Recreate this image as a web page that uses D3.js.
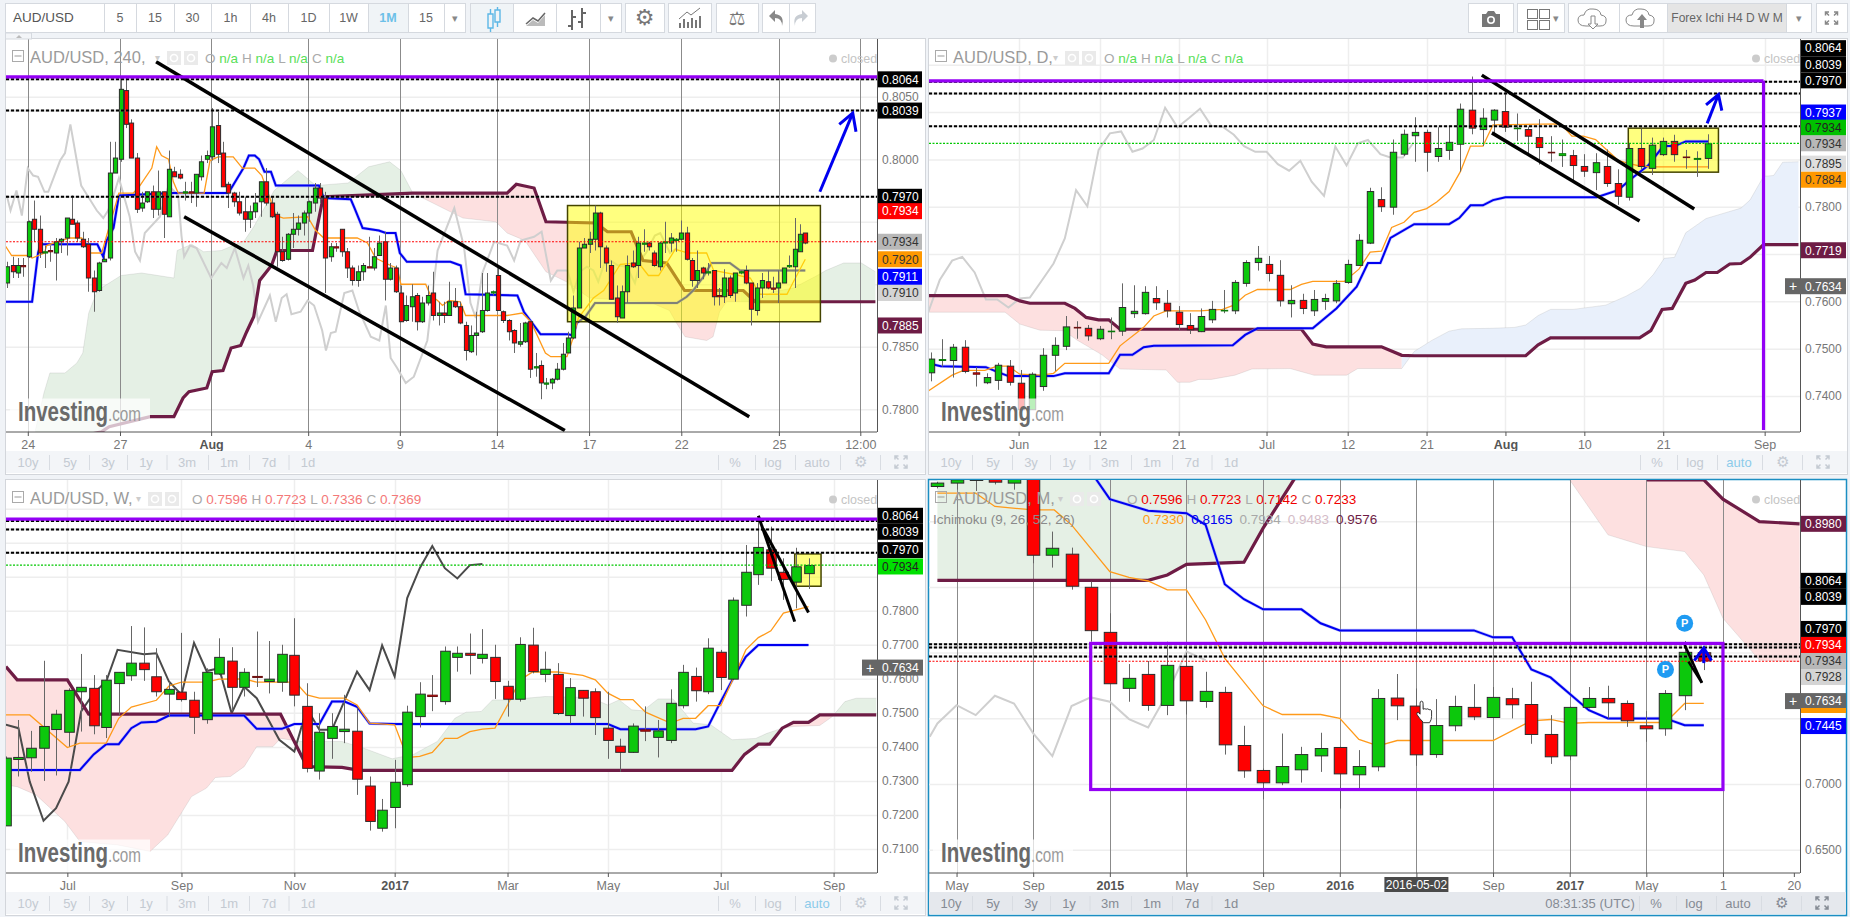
<!DOCTYPE html>
<html><head><meta charset="utf-8">
<script src="https://cdn.jsdelivr.net/npm/d3@7"></script>
<style>
html,body{margin:0;padding:0;background:#f0f3f7;overflow:hidden}
svg{display:block}
text{font-family:"Liberation Sans",Arial,sans-serif}
</style></head><body><svg id="c" width="1850" height="917"></svg>
<script>
// ---------- candles: [open, close, high, low] ----------
const h4Candles=[
[.7901,.7914,.7918,.7897],[.7915,.7910,.7922,.7905],[.7909,.7915,.7921,.7905],[.7915,.7914,.7921,.7906],[.7922,.7950,.7951,.7921],[.7952,.7944,.7967,.7934],[.7944,.7925,.7955,.7921],[.7925,.7926,.7931,.7913],[.7927,.7926,.7931,.7918],[.7925,.7934,.7937,.7903],
[.7934,.7936,.7937,.7925],[.7937,.7953,.7953,.7923],[.7952,.7948,.7971,.7948],[.7949,.7937,.7951,.7934],[.7936,.7930,.7942,.7929],[.7932,.7905,.7937,.7894],[.7905,.7894,.7911,.7878],[.7895,.7917,.7918,.7894],[.7918,.7920,.7923,.7918],[.7921,.7989,.8014,.7919],
[.7989,.8001,.8014,.7989],[.8000,.8056,.8064,.7998],[.8055,.8028,.8066,.8025],[.8029,.8001,.8032,.8001],[.8001,.7960,.8005,.7957],[.7961,.7965,.7974,.7958],[.7966,.7974,.7974,.7965],[.7974,.7960,.7979,.7953],[.7960,.7974,.7991,.7955],[.7974,.7956,.7974,.7937],
[.7954,.7992,.8007,.7954],[.7990,.7986,.7994,.7986],[.7988,.7985,.7992,.7984],[.7973,.7974,.7982,.7967],[.7974,.7973,.7982,.7965],[.7973,.7988,.7988,.7962],[.7986,.7998,.8003,.7983],[.8000,.8003,.8007,.7997],[.8002,.8026,.8041,.7999],[.8027,.8004,.8038,.7997],
[.8005,.7978,.8014,.7978],[.7980,.7973,.7982,.7961],[.7973,.7966,.7974,.7962],[.7966,.7957,.7974,.7955],[.7958,.7952,.7970,.7942],[.7952,.7958,.7963,.7945],[.7958,.7965,.7973,.7953],[.7966,.7982,.7982,.7954],[.7982,.7965,.7993,.7963],[.7965,.7954,.7970,.7953],
[.7956,.7926,.7958,.7914],[.7926,.7919,.7938,.7918],[.7920,.7940,.7941,.7919],[.7940,.7944,.7957,.7929],[.7944,.7949,.7955,.7939],[.7949,.7957,.7959,.7939],[.7957,.7966,.7967,.7950],[.7965,.7977,.7981,.7958],[.7977,.7969,.7981,.7965],[.7969,.7921,.7974,.7893],
[.7922,.7930,.7933,.7918],[.7930,.7929,.7933,.7926],[.7944,.7926,.7944,.7922],[.7926,.7913,.7929,.7905],[.7913,.7903,.7915,.7899],[.7903,.7910,.7915,.7898],[.7910,.7915,.7917,.7903],[.7914,.7913,.7938,.7913],[.7913,.7922,.7929,.7911],[.7923,.7933,.7939,.7923],
[.7934,.7904,.7942,.7887],[.7904,.7913,.7917,.7903],[.7913,.7894,.7915,.7893],[.7893,.7870,.7899,.7870],[.7871,.7883,.7891,.7870],[.7882,.7890,.7900,.7870],[.7891,.7870,.7893,.7863],[.7870,.7885,.7890,.7869],[.7885,.7891,.7899,.7883],[.7893,.7875,.7910,.7871],
[.7875,.7877,.7886,.7867],[.7877,.7875,.7886,.7869],[.7875,.7886,.7902,.7875],[.7886,.7882,.7897,.7881],[.7882,.7869,.7886,.7868],[.7867,.7847,.7870,.7839],[.7846,.7859,.7867,.7845],[.7859,.7861,.7878,.7843],[.7862,.7879,.7909,.7861],[.7879,.7893,.7909,.7878],
[.7893,.7894,.7895,.7891],[.7907,.7879,.7915,.7879],[.7878,.7871,.7879,.7869],[.7871,.7862,.7872,.7855],[.7863,.7853,.7864,.7845],[.7852,.7854,.7869,.7850],[.7854,.7869,.7870,.7853],[.7870,.7832,.7870,.7825],[.7833,.7834,.7845,.7826],[.7835,.7821,.7839,.7808],
[.7820,.7821,.7825,.7816],[.7821,.7824,.7825,.7816],[.7824,.7832,.7837,.7823],[.7832,.7844,.7853,.7831],[.7845,.7857,.7862,.7845],[.7857,.7881,.7891,.7856],[.7881,.7929,.7934,.7881],[.7929,.7932,.7937,.7929],[.7932,.7936,.7942,.7925],[.7936,.7957,.7963,.7927],
[.7957,.7930,.7958,.7913],[.7929,.7917,.7931,.7910],[.7915,.7888,.7919,.7888],[.7889,.7874,.7899,.7869],[.7873,.7894,.7899,.7873],[.7894,.7915,.7923,.7885],[.7917,.7914,.7927,.7913],[.7915,.7933,.7938,.7905],[.7932,.7933,.7944,.7926],[.7933,.7930,.7934,.7927],
[.7925,.7915,.7927,.7914],[.7914,.7933,.7934,.7911],[.7933,.7934,.7950,.7925],[.7933,.7937,.7941,.7926],[.7935,.7936,.7937,.7926],[.7936,.7941,.7951,.7935],[.7941,.7920,.7946,.7919],[.7919,.7903,.7921,.7898],[.7903,.7911,.7927,.7897],[.7913,.7909,.7914,.7904],
[.7909,.7910,.7917,.7907],[.7911,.7890,.7911,.7883],[.7891,.7890,.7897,.7883],[.7890,.7905,.7912,.7885],[.7905,.7891,.7907,.7889],[.7893,.7909,.7909,.7886],[.7909,.7910,.7911,.7908],[.7911,.7901,.7915,.7900],[.7901,.7880,.7901,.7867],[.7879,.7897,.7901,.7875],
[.7897,.7903,.7909,.7889],[.7902,.7897,.7911,.7896],[.7897,.7896,.7906,.7893],[.7897,.7901,.7911,.7885],[.7901,.7913,.7913,.7901],[.7914,.7915,.7923,.7913],[.7914,.7928,.7953,.7897],[.7926,.7940,.7948,.7926],[.7941,.7933,.7941,.7932]];
const dayCandles=[
[.7449,.7478,.7492,.7431],[.7475,.7477,.7520,.7462],[.7475,.7503,.7510,.7439],[.7503,.7452,.7518,.7448],[.7449,.7446,.7461,.7420],[.7428,.7439,.7448,.7425],[.7433,.7465,.7470,.7413],[.7463,.7429,.7476,.7422],[.7427,.7371,.7455,.7367],[.7371,.7446,.7450,.7371],
[.7420,.7486,.7501,.7411],[.7486,.7507,.7524,.7453],[.7505,.7546,.7569,.7497],[.7545,.7544,.7558,.7521],[.7543,.7527,.7550,.7517],[.7521,.7541,.7548,.7518],[.7536,.7537,.7566,.7520],[.7537,.7587,.7638,.7527],[.7574,.7579,.7634,.7565],[.7574,.7619,.7632,.7572],
[.7606,.7597,.7632,.7582],[.7596,.7580,.7624,.7566],[.7577,.7551,.7590,.7539],[.7549,.7540,.7575,.7531],[.7536,.7568,.7585,.7535],[.7561,.7583,.7601,.7554],[.7580,.7581,.7624,.7575],[.7580,.7640,.7645,.7573],[.7638,.7682,.7687,.7631],[.7682,.7691,.7717,.7665],
[.7678,.7659,.7696,.7642],[.7655,.7601,.7687,.7589],[.7595,.7602,.7634,.7566],[.7602,.7585,.7616,.7573],[.7580,.7604,.7624,.7569],[.7600,.7606,.7616,.7582],[.7601,.7638,.7645,.7596],[.7640,.7678,.7688,.7637],[.7676,.7729,.7742,.7675],[.7723,.7832,.7840,.7721],
[.7815,.7800,.7841,.7789],[.7799,.7915,.7942,.7783],[.7911,.7953,.7963,.7907],[.7950,.7957,.7989,.7895],[.7957,.7915,.7963,.7874],[.7906,.7923,.7968,.7895],[.7919,.7936,.7970,.7899],[.7932,.8006,.8018,.7874],[.8004,.7966,.8075,.7953],[.7963,.7987,.8008,.7928],
[.7983,.8004,.8006,.7955],[.8001,.7968,.8044,.7958],[.7965,.7966,.7997,.7939],[.7963,.7949,.7969,.7913],[.7946,.7925,.7985,.7889],[.7915,.7914,.7949,.7895],[.7908,.7912,.7942,.7884],[.7908,.7887,.7920,.7854],[.7885,.7875,.7911,.7863],[.7872,.7893,.7913,.7835],
[.7885,.7849,.7921,.7842],[.7849,.7822,.7879,.7804],[.7820,.7923,.7934,.7813],[.7923,.7885,.7965,.7879],[.7881,.7930,.7946,.7867],[.7910,.7938,.7946,.7907],[.7938,.7910,.7952,.7895],[.7905,.7904,.7920,.7880],[.7900,.7902,.7917,.7863],[.7902,.7933,.7953,.7880]];
const weekCandles=[
[.7168,.7367,.7372,.7168],[.7363,.7369,.7479,.7313],[.7368,.7396,.7447,.7327],[.7396,.7460,.7653,.7300],[.7451,.7496,.7509,.7316],[.7443,.7566,.7572,.7401],[.7562,.7575,.7673,.7445],[.7572,.7462,.7611,.7437],[.7457,.7596,.7611,.7426],[.7586,.7619,.7619,.7494],
[.7609,.7646,.7755,.7594],[.7646,.7627,.7751,.7594],[.7606,.7562,.7690,.7548],[.7555,.7569,.7592,.7489],[.7561,.7539,.7735,.7533],[.7537,.7487,.7562,.7438],[.7480,.7619,.7631,.7468],[.7614,.7663,.7719,.7611],[.7652,.7575,.7693,.7505],[.7575,.7619,.7631,.7548],
[.7607,.7604,.7739,.7576],[.7592,.7599,.7711,.7557],[.7590,.7672,.7700,.7562],[.7669,.7552,.7778,.7519],[.7519,.7337,.7587,.7325],[.7329,.7443,.7499,.7304],[.7425,.7460,.7499,.7365],[.7445,.7452,.7553,.7411],[.7446,.7305,.7513,.7259],[.7285,.7181,.7313,.7154],
[.7161,.7214,.7247,.7151],[.7222,.7296,.7362,.7161],[.7289,.7502,.7521,.7283],[.7489,.7555,.7590,.7457],[.7552,.7548,.7611,.7505],[.7533,.7681,.7695,.7524],[.7663,.7675,.7695,.7621],[.7675,.7669,.7733,.7613],[.7660,.7672,.7746,.7645],[.7663,.7592,.7700,.7541],
[.7578,.7540,.7594,.7489],[.7540,.7701,.7722,.7533],[.7699,.7621,.7750,.7616],[.7613,.7628,.7680,.7590],[.7613,.7498,.7646,.7494],[.7492,.7574,.7602,.7469],[.7566,.7543,.7567,.7489],[.7562,.7486,.7572,.7435],[.7455,.7419,.7562,.7365],[.7402,.7384,.7424,.7327],
[.7384,.7461,.7469,.7382],[.7450,.7446,.7519,.7417],[.7428,.7447,.7479,.7369],[.7419,.7528,.7569,.7411],[.7521,.7619,.7641,.7513],[.7607,.7565,.7633,.7533],[.7562,.7690,.7719,.7555],[.7678,.7604,.7685,.7567],[.7599,.7831,.7839,.7597],[.7816,.7913,.7993,.7783],
[.7906,.7986,.8076,.7876],[.7979,.7925,.8047,.7887],[.7913,.7892,.7954,.7832],[.7884,.7929,.7985,.7807],[.7909,.7933,.7954,.7864]];
const monthCandles=[
[.9264,.9290,.9300,.9250],[.9290,.9315,.9400,.9240],[.9310,.9330,.9400,.9230],[.9330,.9297,.9400,.9280],[.9290,.9340,.9400,.9240],[.9400,.8741,.9500,.8680],[.8741,.8794,.8921,.8647],[.8749,.8505,.8799,.8479],[.8497,.8167,.8540,.8083],[.8154,.7763,.8299,.7766],
[.7728,.7804,.7913,.7626],[.7834,.7598,.7936,.7557],[.7598,.7903,.8083,.7524],[.7895,.7633,.8000,.7529],[.7628,.7705,.7854,.7580],[.7697,.7298,.7740,.7224],[.7293,.7100,.7443,.7047],[.7103,.7009,.7118,.6884],[.7009,.7133,.7384,.6991],[.7108,.7224,.7283,.7011],
[.7214,.7270,.7390,.7092],[.7278,.7077,.7283,.6813],[.7070,.7133,.7258,.6966],[.7131,.7651,.7722,.7097],[.7654,.7595,.7837,.7486],[.7593,.7222,.7727,.7138],[.7224,.7445,.7646,.7199],[.7443,.7590,.7672,.7402],[.7583,.7511,.7760,.7486],[.7506,.7659,.7738,.7506],
[.7649,.7603,.7732,.7499],[.7605,.7377,.7778,.7306],[.7377,.7207,.7524,.7153],[.7214,.7583,.7588,.7181],[.7583,.7651,.7738,.7575],[.7651,.7618,.7748,.7499],[.7613,.7481,.7636,.7435],[.7443,.7420,.7555,.7321],[.7420,.7689,.7715,.7367],[.7672,.8002,.8088,.7562],[.7999,.7936,.8045,.7867]];

// ---------- ichimoku lines: [bar index, price] ----------
const h4Kijun=[[-.4,.7886],[4.6,.7886],[5.7,.7925],[6.2,.7932],[16.7,.7932],[17.8,.7922],[18.4,.7935],[19.7,.7945],[20.7,.7971],[30.8,.7973],[41,.7973],[43.8,.7993],[44.8,.8003],[45.9,.8003],[46.7,.8000],[47.7,.7990],[48.9,.7990],[49.8,.7979],[57.8,.7979],[58.7,.7969],[63.7,.7968],[64.4,.7961],[65.9,.7945],[68.9,.7943],[70.2,.7941],[72,.7941],[72.8,.7925],[74.1,.7918],[82.2,.7918],[84.1,.7915],[85,.7892],[94.6,.7891],[95.8,.7878],[98.9,.7860],[104,.7860],[105,.7859],[105.6,.7869],[107.2,.7874],[109,.7885],[124.2,.7885],[126,.7890],[127.2,.7895],[129.1,.7906],[130.6,.7917],[134,.7917],[135.9,.7911],[145.8,.7911],[148,.7911]];
const h4Tenkan=[[-.4,.7931],[.8,.7923],[3.9,.7923],[4.6,.7921],[6.9,.7925],[7.3,.7931],[9.8,.7935],[11.6,.7937],[13.8,.7937],[15.5,.7925],[17.5,.7925],[20.7,.7973],[23.4,.7973],[24.6,.7979],[26.8,.7993],[27.7,.8010],[28.6,.8003],[29.9,.8000],[30.8,.7982],[31.7,.7973],[36.5,.7973],[37.6,.7999],[39.1,.8002],[41.9,.8002],[43.6,.7993],[45.9,.7993],[47.2,.7987],[48.7,.7969],[49.8,.7955],[51.2,.7953],[55.7,.7954],[57.2,.7943],[58.7,.7937],[64.9,.7937],[66.8,.7933],[68.3,.7921],[71.1,.7915],[72.3,.7913],[73,.7900],[77.6,.7900],[78.5,.7891],[79.8,.7887],[80.7,.7883],[81.9,.7887],[84,.7886],[85,.7875],[92.7,.7875],[95.5,.7877],[97.1,.7870],[99.8,.7845],[100.8,.7842],[103.8,.7842],[105,.7858],[105.9,.7873],[108.7,.7889],[110.6,.7895],[113.7,.7916],[117.1,.7917],[118.9,.7907],[120.8,.7907],[123.9,.7928],[126.3,.7925],[129.7,.7925],[131,.7911],[134.7,.7908],[137.8,.7905],[139.6,.7892],[144.6,.7892],[145.8,.7902],[148,.7920]];
const h4SpanB=[[5.2,.7770],[17.5,.7782],[18.9,.7786],[26.5,.7794],[30.9,.7794],[32.6,.7809],[33.7,.7814],[37,.7817],[38,.7830],[40,.7831],[41.5,.7849],[43.3,.7851],[44.4,.7862],[45.7,.7874],[46.8,.7903],[49,.7915],[50,.7927],[56.6,.7927],[58.6,.7970],[75.2,.7973],[92.7,.7973],[94.4,.7980],[97.7,.7977],[99.9,.7950],[109.2,.7949],[111.3,.7942],[115.7,.7942],[117.9,.7919],[122.3,.7917],[125.6,.7895],[136.5,.7895],[138.7,.7886],[161,.7886]];
const h4SpanA=[[5.2,.7783],[6.8,.7813],[7.9,.7829],[10.7,.7829],[12.9,.7837],[14,.7845],[15.1,.7877],[16.7,.7895],[21.1,.7907],[24.9,.7909],[30.9,.7905],[31.5,.7927],[34.2,.7932],[36.4,.7926],[39.7,.7927],[41.9,.7931],[44,.7935],[45.7,.7946],[49.5,.7975],[53.9,.7991],[57.2,.7979],[63.2,.7981],[67,.7994],[70.9,.7998],[73,.7991],[75.2,.7973],[84.5,.7953],[90.6,.7950],[92.7,.7941],[96,.7935],[99.9,.7910],[103.7,.7902],[108,.7889],[119,.7886],[122.8,.7879],[124.1,.7869],[125.7,.7858],[129.7,.7855],[130.9,.7858],[132.1,.7878],[133.4,.7886],[138.7,.7886],[142,.7894],[145.8,.7897],[150.2,.7907],[151.8,.7911],[155.1,.7917],[158.4,.7917],[161,.7910]];
const h4Chikou=[[-.1,.7971],[.6,.7959],[1.7,.7975],[2.7,.7955],[3.8,.7993],[4.8,.7987],[5.7,.7986],[6.9,.7974],[7.6,.7974],[9.8,.7999],[10.7,.8005],[11.7,.8028],[13.7,.7979],[15,.7970],[16.6,.7959],[17.8,.7953],[18.7,.7959],[19.7,.7971],[20.7,.7985],[22.7,.7954],[23.7,.7926],[24.6,.7919],[25.5,.7941],[28.3,.7954],[29.9,.7979],[31.7,.7971],[32.3,.7939],[32.8,.7922],[33.9,.7931],[35.1,.7929],[37.8,.7905],[39.7,.7917],[40.7,.7913],[42.2,.7929],[43.8,.7905],[44.7,.7915],[45.6,.7899],[46.5,.7870],[48.7,.7891],[49.8,.7870],[50.9,.7889],[51.8,.7892],[52.7,.7876],[54.4,.7878],[55.7,.7887],[56.9,.7883],[58.4,.7863],[59.1,.7847],[60,.7861],[60.9,.7862],[62.5,.7893],[64,.7895],[65.2,.7879],[67.4,.7858],[69,.7855],[70.2,.7883],[71.1,.7841],[72.3,.7833],[73.9,.7821],[75.4,.7826],[77.9,.7855],[79.8,.7927],[82.9,.7961],[84.7,.7930],[85.9,.7885],[86.9,.7873],[88.1,.7909],[90.3,.7934],[92.7,.7931],[94,.7919],[95.2,.7935],[97.7,.7938],[99.1,.7942],[100.8,.7903],[102,.7911],[103.9,.7911],[105,.7894],[106.2,.7910],[107.5,.7914],[108.7,.7911],[109.6,.7902],[110.6,.7915],[111.8,.7919],[113.3,.7915],[114.9,.7914],[116.4,.7901],[117.4,.7919],[118.6,.7926],[120.1,.7939],[121.1,.7941],[122.9,.7925],[124.2,.7929]];

const dayKijun=[[-.2,.7469],[.9,.7463],[4.9,.7461],[5.9,.7451],[6.9,.7442],[10.9,.7442],[11.9,.7448],[15.8,.7448],[16.8,.7487],[17.9,.7487],[18.9,.7503],[19.8,.7506],[26.8,.7507],[27.9,.7529],[29,.7543],[33.9,.7543],[36,.7585],[37.8,.7631],[38.8,.7681],[39.9,.7681],[40.8,.7734],[42.9,.7763],[46,.7763],[46.9,.7776],[47.9,.7803],[49,.7803],[49.9,.7814],[51,.7820],[59.1,.7820],[61,.7835],[62,.7856],[63.7,.7888],[65,.7928],[66,.7928],[67,.7938],[69,.7938]];
const dayTenkan=[[-.2,.7411],[1.9,.7444],[2.9,.7454],[4.8,.7454],[5.9,.7463],[6.9,.7463],[7.9,.7446],[9.8,.7444],[10.9,.7448],[11.9,.7469],[15.8,.7469],[16.8,.7506],[18.9,.7545],[19.8,.7569],[20.9,.7580],[23.9,.7580],[25.9,.7583],[26.9,.7592],[27.9,.7613],[29,.7625],[31.9,.7625],[32.9,.7636],[33.9,.7642],[36.7,.7642],[38,.7668],[39,.7704],[40,.7706],[40.9,.7756],[42,.7767],[42.9,.7788],[44,.7796],[44.9,.7810],[46,.7832],[47,.7874],[47.9,.7928],[49,.7928],[49.9,.7973],[55.9,.7975],[56.9,.7949],[57.9,.7949],[59,.7942],[60,.7920],[61,.7898],[62,.7891],[62.9,.7886],[64,.7884],[69,.7884]];
const daySpanB=[[-.2,.7612],[6.8,.7612],[7.9,.7601],[8.8,.7596],[11.9,.7596],[12.8,.7585],[13.8,.7566],[14.9,.7561],[15.8,.7561],[16.8,.7541],[32.9,.7541],[33.9,.7510],[35.1,.7504],[40,.7504],[41.8,.7486],[42.9,.7485],[52.8,.7485],[53.9,.7508],[55,.7523],[62.9,.7523],[63.9,.7538],[64.9,.7583],[65.8,.7585],[67,.7638],[67.8,.7645],[68.8,.7661],[69.8,.7661],[70.9,.7679],[71.9,.7680],[72.7,.7693],[73.9,.7720],[77,.7720]];
const daySpanA=[[-.2,.7577],[6.6,.7577],[7.9,.7552],[9.7,.7539],[11.8,.7538],[13,.7518],[15.2,.7487],[16.8,.7457],[20.9,.7455],[21.9,.7429],[23,.7429],[23.8,.7435],[24.9,.7435],[27,.7444],[28.5,.7457],[31.9,.7458],[34,.7444],[36.9,.7444],[37.9,.7458],[41.8,.7458],[42.9,.7494],[44.5,.7518],[46,.7537],[47.1,.7542],[49.7,.7543],[51.8,.7545],[52.8,.7550],[53.9,.7570],[55,.7583],[57,.7583],[59.9,.7592],[61.7,.7611],[63,.7628],[64.1,.7656],[65.1,.7691],[66,.7693],[67,.7745],[68.8,.7775],[71.9,.7797],[72.7,.7814],[73.9,.7864],[74.8,.7866],[75.6,.7894],[77,.7895]];
const dayChikou=[[-.2,.7578],[.8,.7645],[1.9,.7686],[2.8,.7694],[3.9,.7661],[4.9,.7604],[5.9,.7604],[6.9,.7587],[7.9,.7606],[8.8,.7608],[9.8,.7642],[10.9,.7680],[11.9,.7733],[12.9,.7835],[13.9,.7801],[14.9,.7920],[15.9,.7955],[16.9,.7959],[17.9,.7916],[18.8,.7923],[19.8,.7941],[20.8,.8009],[21.9,.7968],[22.9,.7987],[23.9,.8007],[24.9,.7971],[25.9,.7969],[26.9,.7952],[27.8,.7928],[28.8,.7916],[29.8,.7916],[30.8,.7890],[31.8,.7876],[32.8,.7897],[33.8,.7853],[34.9,.7823],[35.9,.7927],[36.9,.7887],[37.9,.7934],[38.8,.7941],[39.9,.7911],[40.8,.7904],[41.9,.7904],[42.8,.7934]];

const weekTenkan=[[0,.7494],[1.9,.7494],[4.9,.7398],[5.9,.7411],[8,.7411],[9,.7484],[10,.7517],[12,.7537],[13,.7579],[14,.7590],[16,.7590],[17,.7599],[19,.7600],[20,.7590],[23.1,.7590],[24,.7553],[25,.7543],[27,.7543],[28,.7523],[29,.7470],[31,.7465],[32,.7369],[33,.7372],[34,.7384],[35,.7425],[36,.7425],[37,.7445],[38,.7452],[39,.7455],[40,.7523],[41,.7597],[42,.7620],[44,.7620],[46,.7610],[47,.7597],[48,.7558],[49,.7539],[50,.7539],[51,.7502],[53,.7470],[54,.7484],[55,.7484],[56,.7521],[57,.7521],[58,.7600],[59,.7685],[60,.7721],[61,.7741],[62,.7793],[64,.7812]];
const weekKijun=[[0,.7332],[5.9,.7332],[7,.7378],[8,.7408],[9,.7408],[10,.7455],[10.8,.7472],[12,.7474],[13,.7492],[19,.7492],[20,.7453],[22,.7453],[23,.7467],[25,.7467],[26,.7533],[27,.7533],[28,.7518],[29,.7469],[31,.7467],[48,.7467],[49,.7452],[55,.7452],[56,.7460],[57,.7533],[58,.7602],[59,.7665],[60,.7699],[64,.7699]];
const weekSpanB=[[0,.7636],[.9,.7597],[4.9,.7597],[6.6,.7496],[21.9,.7496],[24,.7342],[26.8,.7340],[28.2,.7331],[57.9,.7331],[58.9,.7378],[60,.7408],[60.9,.7408],[61.9,.7455],[62.8,.7472],[64,.7472],[64.9,.7494],[69.4,.7494]];
const weekSpanA=[[0,.7288],[.9,.7283],[2.4,.7259],[4.7,.7181],[5.9,.7122],[7.3,.7117],[8.9,.7112],[11.5,.7093],[12.9,.7141],[14.8,.7254],[16,.7279],[16.7,.7310],[17.9,.7313],[19,.7342],[20,.7401],[21.3,.7401],[21.9,.7425],[23.5,.7416],[24.9,.7416],[26.8,.7416],[28.7,.7394],[30.8,.7365],[32.5,.7378],[34.4,.7416],[35.8,.7484],[36.7,.7502],[37.9,.7504],[38.8,.7538],[40,.7538],[43,.7548],[46.6,.7545],[48,.7523],[48.9,.7538],[49.9,.7509],[50.8,.7506],[52,.7541],[53.2,.7541],[54.8,.7470],[56.2,.7465],[57.9,.7421],[59.8,.7425],[60.7,.7440],[61.9,.7455],[62.8,.7460],[64.9,.7463],[65.9,.7489],[66.9,.7533],[67.8,.7543],[69.4,.7543]];
const weekChikou=[[0,.7465],[1,.7455],[1.9,.7298],[3,.7183],[4,.7220],[5,.7298],[6,.7504],[7,.7558],[8,.7592],[8.9,.7685],[11,.7672],[12,.7675],[13,.7592],[14,.7553],[15,.7706],[16,.7623],[17,.7631],[18,.7499],[19,.7577],[20,.7543],[21.8,.7421],[23,.7386],[24,.7513],[25,.7450],[26,.7450],[28,.7621],[29,.7567],[30,.7698],[31,.7607],[32,.7837],[33,.7925],[34,.7990],[35,.7925],[36,.7895],[37,.7934],[38,.7937]];

const monthTenkan=[[0,.9213],[2,.9213],[3,.9112],[5,.9086],[6.1,.9086],[7,.8972],[9,.8616],[10,.8573],[11,.8545],[12,.8477],[13,.8477],[14,.8248],[15,.7956],[17,.7595],[18,.7529],[20,.7529],[21,.7499],[22,.7339],[23,.7290],[24,.7331],[29,.7331],[31,.7481],[32,.7491],[33,.7461],[34,.7468],[38,.7468],[39,.7613],[40,.7613]];
const monthKijun=[[7.9,.9400],[9,.9168],[11,.9079],[13,.9061],[14,.8972],[15,.8520],[16,.8406],[17,.8329],[19,.8329],[20,.8223],[21,.8169],[28,.8169],[29,.8116],[30,.8116],[31,.7872],[32,.7811],[34,.7562],[35,.7499],[38,.7499],[39,.7448],[40,.7448]];
const monthSpanB=[[0,.8550],[11,.8550],[12,.8591],[13,.8672],[16,.8688],[17,.8947],[18.6,.9315],[22,1.0],[36,1.0],[37.1,.9315],[40,.9315],[41,.9168],[42.9,.8997],[45,.8980]];
const monthSpanA=[[0,1.0],[22,1.0],[33,.9315],[35,.8896],[37,.8807],[39,.8769],[40,.8591],[41,.8261],[42.9,.7943],[45,.7931]];
const monthChikou=[[-.4,.7359],[0,.7461],[1,.7600],[2,.7524],[3,.7672],[4,.7613],[5,.7385],[6,.7212],[7,.7593],[8,.7659],[9,.7626],[10,.7494],[11,.7430],[12,.7689],[13,.8007],[14,.7943]];

// ---------- axes ----------
const h4TickPos=[3.8,20.9,37.8,55.8,72.8,90.8,107.9,125,143.1,158.2];
const h4TickLabels=["24","27","Aug","4","9","14","17","22","25","12:00"];
const dayTickPos=[7.8,15,22,29.8,37,44,51,58,65,74];
const dayTickLabels=["Jun","12","21","Jul","12","21","Aug","10","21","Sep"];
const weekTickPos=[4.9,14,23,31,40,48,57,66];
const weekTickLabels=["Jul","Sep","Nov","2017","Mar","May","Jul","Sep"];
const monthTickPos=[1,5,9,13,17,21,25,29,33,37,41,44.7];
const monthTickLabels=["May","Sep","2015","May","Sep","2016","2016-05-02","Sep","2017","May","1","20"];
const h4PriceTicks=[.805,.80,.795,.79,.785,.78];
const dayPriceTicks=[.81,.80,.79,.78,.77,.76,.75,.74];
const weekPriceTicks=[.81,.80,.79,.78,.77,.76,.75,.74,.73,.72,.71];
const monthPriceTicks=[.9,.85,.8,.75,.7,.65];

// ---------- level lines ----------
const keyLevels=[.8064,.8039,.7970];
const lastPrice=.7934;
const rangeButtons=["10y","5y","3y","1y","3m","1m","7d","1d"];
const intervalButtons=["5","15","30","1h","4h","1D","1W","1M","15"];

// ---------- price tags: [text, shown at price, background, text colour] ----------
const h4Tags=[["0.8064",.8064,"#000","#fff"],["0.8039",.8039,"#000","#fff"],["0.7970",.7970,"#000","#fff"],["0.7934",.79585,"#f00","#fff"],["0.7934",.7934,"#b8b8b8","#333"],["0.7920",.7920,"#ff9800","#333"],["0.7911",.7906,"#00f","#fff"],["0.7910",.7893,"#d4d4d4","#333"],["0.7885",.7867,"#6e1c45","#fff"]];
const dayTags=[["0.8064",.8135,"#000","#fff"],["0.8039",.8101,"#000","#fff"],["0.7970",.8067,"#000","#fff"],["0.7937",.7999,"#00f","#fff"],["0.7934",.7967,"#00c000","#222"],["0.7934",.7934,"#b8b8b8","#333"],["0.7895",.7891,"#dedede","#333"],["0.7884",.7857,"#ff9800","#333"],["0.7719",.7708,"#6e1c45","#fff"],["0.7634",.7632,"#666","#fff"]];
const weekTags=[["0.8064",.8079,"#000","#fff"],["0.8039",.8032,"#000","#fff"],["0.7970",.7978,"#000","#fff"],["0.7934",.7930,"#00e000","#222"],["0.7634",.7633,"#666","#fff"]];
const monthTags=[["0.8980",.8980,"#6e1c45","#fff"],["0.8064",.8546,"#000","#fff"],["0.8039",.8424,"#000","#fff"],["0.7970",.8180,"#000","#fff"],["0.7934",.8058,"#f00","#fff"],["0.7934",.7936,"#b8b8b8","#333"],["0.7928",.7814,"#d4d4d4","#333"],["0.7634",.7631,"#666","#fff"],["0.7445",.7441,"#00f","#fff"]];

const svg=d3.select("#c");
const GREEN="#0cc80c",RED="#ff0000",MAROON="#6e1c45",PURPLE="#9400f5";
const CLOUD={g:"#e5f0e5",p:"#fde0e0",b:"#e9f0fb"};
const defs=svg.append("defs");

function interpolator(s){return d3.scaleLinear().domain(s.map(d=>d[0])).range(s.map(d=>d[1])).clamp(true);}

function panel(c){
  const g=svg.append("g");
  const x=d3.scaleLinear().domain([0,c.candles.length-1]).range(c.xr);
  const y=d3.scaleLinear().domain(c.yd).range(c.yr);
  const P={l:c.box[0],t:c.box[1],r:c.box[2],b:c.box[3],pl:c.plot[0],pt:c.plot[1],pr:c.plot[2],pb:c.plot[3]};
  g.append("rect").attr("x",P.l+.5).attr("y",P.t+.5).attr("width",P.r-P.l).attr("height",P.b-P.t).attr("fill","#fff").attr("stroke",c.border||"#d3d6db").attr("stroke-width",c.border?1.5:1);
  const id="clip"+c.id;
  defs.append("clipPath").attr("id",id).append("rect").attr("x",P.pl).attr("y",P.pt).attr("width",P.pr-P.pl).attr("height",P.pb-P.pt);
  const plot=g.append("g").attr("clip-path",`url(#${id})`);
  // grid
  plot.selectAll(".h").data(c.pticks).enter().append("line").attr("x1",P.pl).attr("x2",P.pr).attr("y1",d=>y(d)+.5).attr("y2",d=>y(d)+.5).attr("stroke","#eeeeee").attr("stroke-width",1.5);
  const vs=plot.append("g");
  const gridPos=c.tpos.filter(d=>!(c.noLine||[]).includes(d));
  const vline=(sel)=>sel.selectAll("line").data(gridPos).enter().append("line").attr("x1",d=>Math.round(x(d))+.5).attr("x2",d=>Math.round(x(d))+.5).attr("y1",P.pt).attr("y2",P.pb);
  if(!c.darkGrid){vline(vs).attr("stroke","#eeeeee").attr("stroke-width",1.5);}
  // cloud
  const fa=interpolator(c.spanA),fb=interpolator(c.spanB);
  c.cloud.forEach(([s,e,col])=>{
    const xs=[...new Set([s,e,...c.spanA.map(d=>d[0]),...c.spanB.map(d=>d[0])])].filter(v=>v>=s&&v<=e).sort((a,b)=>a-b);
    plot.append("path").attr("fill",CLOUD[col]).attr("d",d3.area().x(v=>x(v)).y0(v=>y(fb(v))).y1(v=>y(fa(v)))(xs));
  });
  if(c.darkGrid){vline(plot.append("g")).attr("stroke","#8b8b8b").attr("stroke-width",1);}
  const ln=d3.line().x(d=>x(d[0])).y(d=>y(d[1]));
  plot.append("path").attr("d",ln(c.spanA)).attr("fill","none").attr("stroke","#888").attr("stroke-opacity",.18).attr("stroke-width",1);
  const drawYellow=()=>{
    if(c.yellow) plot.append("rect").attr("x",x(c.yellow[0])).attr("width",x(c.yellow[1])-x(c.yellow[0])).attr("y",y(c.yellow[2])).attr("height",y(c.yellow[3])-y(c.yellow[2])).attr("fill","#ffff00").attr("fill-opacity",.5).attr("stroke","#444400").attr("stroke-width",1.5);
  };
  if(c.yellowBelow) drawYellow();
  plot.append("path").attr("d",ln(c.chikou)).attr("fill","none").attr("stroke",c.chikouColor||"#cfcfcf").attr("stroke-width",2);
  plot.append("path").attr("d",ln(c.spanB)).attr("fill","none").attr("stroke",MAROON).attr("stroke-width",3.2);
  plot.append("path").attr("d",ln(c.kijun)).attr("fill","none").attr("stroke","#9aa0ff").attr("stroke-width",3.2).attr("stroke-opacity",.6);
  plot.append("path").attr("d",ln(c.kijun)).attr("fill","none").attr("stroke","#0000f0").attr("stroke-width",2);
  plot.append("path").attr("d",ln(c.tenkan)).attr("fill","none").attr("stroke","#ff9a1a").attr("stroke-width",1.3);
  if(!c.yellowBelow) drawYellow();
  // candles
  const cg=plot.append("g");
  const cd=cg.selectAll("g").data(c.candles).enter().append("g");
  const px=(i)=>Math.round(x(i));
  cd.append("line").attr("x1",(d,i)=>px(i)+.5).attr("x2",(d,i)=>px(i)+.5).attr("y1",d=>y(d[2])).attr("y2",d=>y(d[3])).attr("stroke","#666");
  cd.append("rect").attr("x",(d,i)=>px(i)+.5-c.bw/2).attr("width",c.bw)
    .attr("y",d=>y(Math.max(d[0],d[1]))).attr("height",d=>Math.max(.6,Math.abs(y(d[0])-y(d[1]))))
    .attr("fill",d=>d[1]>=d[0]?GREEN:RED).attr("stroke",d=>Math.abs(y(d[0])-y(d[1]))<2?(d[1]>=d[0]?"#0a7a0a":"#6b1010"):"#2b2b2b").attr("stroke-width",1);
  // horizontal levels
  keyLevels.forEach(v=>{
    plot.append("line").attr("x1",P.pl).attr("x2",P.pr).attr("y1",y(v)).attr("y2",y(v)).attr("stroke","#8a8a8a").attr("stroke-width",2.2).attr("stroke-opacity",.35);
    plot.append("line").attr("x1",P.pl).attr("x2",P.pr).attr("y1",y(v)).attr("y2",y(v)).attr("stroke","#000").attr("stroke-width",2).attr("stroke-dasharray","3 2");
  });
  plot.append("line").attr("x1",P.pl).attr("x2",P.pr).attr("y1",y(lastPrice)).attr("y2",y(lastPrice)).attr("stroke",c.lastColor).attr("stroke-width",1.2).attr("stroke-dasharray","2 1.5");
  // drawings
  c.blackLines.forEach(a=>plot.append("line").attr("x1",x(a[0])).attr("y1",y(a[1])).attr("x2",x(a[2])).attr("y2",y(a[3])).attr("stroke","#000").attr("stroke-width",c.blackW||3.5));
  if(c.arrow){const A=c.arrow;
    plot.append("path").attr("d",ln(A.shaft)).attr("fill","none").attr("stroke","#0000f0").attr("stroke-width",3);
    plot.append("path").attr("d",ln(A.head)).attr("fill","none").attr("stroke","#0000f0").attr("stroke-width",3);}
  if(c.purpleH!=null){
    plot.append("line").attr("x1",P.pl).attr("y1",y(c.purpleH)).attr("x2",c.purpleEnd!=null?x(c.purpleEnd):P.pr).attr("y2",y(c.purpleH)).attr("stroke",PURPLE).attr("stroke-width",3.2);
    if(c.purpleEnd!=null) plot.append("line").attr("x1",x(c.purpleEnd)).attr("y1",y(c.purpleH)).attr("x2",x(c.purpleEnd)).attr("y2",y(c.purpleBottom)).attr("stroke",PURPLE).attr("stroke-width",3.2);
  }
  if(c.purpleRect){const R=c.purpleRect;
    plot.append("rect").attr("x",x(R[0])).attr("width",x(R[1])-x(R[0])).attr("y",y(R[2])).attr("height",y(R[3])-y(R[2])).attr("fill","none").attr("stroke",PURPLE).attr("stroke-width",3.2);}
  (c.badges||[]).forEach(b=>{
    plot.append("circle").attr("cx",x(b[0])).attr("cy",y(b[1])).attr("r",8.5).attr("fill","#1f9bf2");
    plot.append("text").attr("x",x(b[0])).attr("y",y(b[1])+4).attr("text-anchor","middle").attr("fill","#fff").attr("font-size",11).attr("font-weight","bold").text("P");
  });
  if(c.hand){
    const hx=x(c.hand[0]),hy=y(c.hand[1]);
    plot.append("path").attr("transform",`translate(${hx},${hy})`).attr("d","M-4,-13 q0,-2 1.5,-2 q1.5,0 1.5,2 v6 q2,-1 3,0 q2,-1 3,.5 q2,-.5 2.5,1 v6 q0,3 -2,6 h-6 q-4,-4 -6.5,-8 q-1,-2 1,-2.5 l2,2 z").attr("fill","#fff").attr("stroke","#222").attr("stroke-width",.9);
  }
  // logo
  const ly=P.pb-18.5;
  plot.append("rect").attr("x",P.l+5).attr("y",ly-15).attr("width",140).attr("height",33).attr("fill","#fff").attr("fill-opacity",.72);
  g.append("text").attr("x",P.l+13).attr("y",ly+7).attr("font-size",27).attr("font-weight","bold").attr("fill","#6a6a6a").attr("textLength",90).attr("lengthAdjust","spacingAndGlyphs").text("Investing");
  g.append("text").attr("x",P.l+103).attr("y",ly+7).attr("font-size",20).attr("fill","#9a9a9a").attr("textLength",33).attr("lengthAdjust","spacingAndGlyphs").text(".com");
  // axes (library)
  const ya=d3.axisRight(y).tickValues(c.pticks).tickFormat(d3.format(".4f")).tickSize(0).tickPadding(5);
  const yg=g.append("g").attr("transform",`translate(${P.pr},0)`).call(ya);
  yg.select(".domain").attr("stroke","#555").attr("d",`M0.5,${P.pt}V${P.pb}`);
  yg.selectAll("text").attr("font-size",12).attr("fill","#777");
  // plain price labels that sit behind a price tag do not show
  yg.selectAll(".tick").filter(d=>c.tags.some(t=>Math.abs(y(t[1])-y(d))<11)).select("text").remove();
  const xa=d3.axisBottom(x).tickValues(c.tpos).tickFormat((d,i)=>c.tlabels[i]).tickSize(4).tickPadding(4);
  const xg=g.append("g").attr("transform",`translate(0,${P.pb})`).call(xa);
  xg.select(".domain").attr("stroke","#555").attr("d",`M${P.pl},0H${P.pr}`);
  xg.selectAll(".tick line").attr("stroke","#555");
  xg.selectAll("text").attr("font-size",12.5).attr("fill","#777");
  xg.selectAll("text").filter((d,i)=>/^(20\d\d|Aug)$/.test(c.tlabels[i])).attr("fill","#555").attr("font-weight","bold");
  if(c.crosshair!=null){
    const cx=x(c.crosshair);
    xg.selectAll(".tick").filter(d=>d===c.crosshair).select("text").remove();
    const cb=g.append("g");
    cb.append("rect").attr("x",cx-32).attr("y",P.pb+4).attr("width",64).attr("height",15.5).attr("fill","#4a4a4a");
    cb.append("text").attr("x",cx).attr("y",P.pb+16).attr("text-anchor","middle").attr("fill","#fff").attr("font-size",12).text(c.tlabels[c.tpos.indexOf(c.crosshair)]);
  }
  // tags
  c.tags.forEach(t=>{
    const ty=y(t[1]);
    g.append("rect").attr("x",P.pr+1).attr("y",ty-8).attr("width",c.tagW).attr("height",16).attr("fill",t[2]);
    g.append("text").attr("x",P.pr+5).attr("y",ty+4.3).attr("font-size",12).attr("fill",t[3]).text(t[0]);
    if(t[0]==="0.7634"){
      g.append("rect").attr("x",P.pr-15).attr("y",ty-8).attr("width",16).attr("height",16).attr("fill","#666");
      g.append("text").attr("x",P.pr-7).attr("y",ty+5).attr("text-anchor","middle").attr("font-size",14).attr("fill","#fff").text("+");
    }
  });
  // legend
  const ty=P.t+20;
  const gr="#9a9a9a";
  g.append("rect").attr("x",P.l+7.5).attr("y",ty-7.5).attr("width",11).attr("height",11).attr("fill","none").attr("stroke","#aaa");
  g.append("line").attr("x1",P.l+9.5).attr("x2",P.l+16.5).attr("y1",ty-2).attr("y2",ty-2).attr("stroke","#999");
  g.append("text").attr("x",P.l+25).attr("y",ty+5).attr("font-size",16.5).attr("fill",gr).text(c.title);
  g.append("text").attr("x",P.l+c.caretX).attr("y",ty+3).attr("font-size",10).attr("fill","#ccc").text("▾");
  [0,17].forEach(o=>{
    g.append("rect").attr("x",P.l+c.caretX+12+o).attr("y",ty-7).attr("width",14).attr("height",14).attr("fill","#eaeaea");
    g.append("circle").attr("cx",P.l+c.caretX+19+o).attr("cy",ty).attr("r",3.5).attr("fill","none").attr("stroke","#fff").attr("stroke-width",1.6);
  });
  const oh=g.append("text").attr("x",P.l+c.ohlcX).attr("y",ty+4.5).attr("font-size",13.5);
  c.ohlc.forEach((v,i)=>{
    oh.append("tspan").attr("fill","#aaa").attr("dx",i?4:0).text("OHLC"[i]+" ");
    oh.append("tspan").attr("fill",c.ohlcColor).text(v);
  });
  g.append("circle").attr("cx",P.pr-44).attr("cy",ty+.5).attr("r",4).attr("fill","#ccc");
  g.append("text").attr("x",P.pr-36).attr("y",ty+4.5).attr("font-size",12.5).attr("fill","#c4c4c4").text("closed");
  // bottom bar
  const barH=22,by=P.b-barH-1;
  g.append("rect").attr("x",P.l+1).attr("y",by).attr("width",P.r-P.l-1).attr("height",barH).attr("fill",c.barBg||"#f3f5f8");
  const bc=c.barText||"#c4cad2";
  const rx=[23,65,103,141,182,224,264,303];
  rangeButtons.forEach((t,i)=>{
    g.append("text").attr("x",P.l+rx[i]).attr("y",by+15.5).attr("text-anchor","middle").attr("font-size",13).attr("fill",bc).text(t);
    if(i<7) g.append("line").attr("x1",P.l+(rx[i]+rx[i+1])/2+.5).attr("x2",P.l+(rx[i]+rx[i+1])/2+.5).attr("y1",by+4).attr("y2",by+19).attr("stroke","#d8dce2");
  });
  const right=[["%",-190,bc],["log",-152,bc],["auto",-108,c.autoColor||bc]];
  right.forEach(r=>g.append("text").attr("x",P.r+r[1]).attr("y",by+15.5).attr("text-anchor","middle").attr("font-size",13).attr("fill",r[2]).text(r[0]));
  [-207,-170,-130,-85,-45].forEach(o=>g.append("line").attr("x1",P.r+o+.5).attr("x2",P.r+o+.5).attr("y1",by+4).attr("y2",by+19).attr("stroke","#d8dce2"));
  g.append("text").attr("x",P.r-64).attr("y",by+16).attr("text-anchor","middle").attr("font-size",15).style("font-family","DejaVu Sans").attr("fill",bc).text("⚙");
  corners(g,P.r-24,by+11,bc);
  if(c.clock) g.append("text").attr("x",P.r-256).attr("y",by+15.5).attr("text-anchor","middle").attr("font-size",13).attr("fill",bc).text(c.clock);
  if(c.extra) c.extra(g,P);
}
function corners(g,cx,cy,col){
  const s=6,k=3.5;
  [[-1,-1],[1,-1],[-1,1],[1,1]].forEach(([a,b])=>g.append("path").attr("d",`M${cx+a*s},${cy+b*(s-k)}V${cy+b*s}H${cx+a*(s-k)}M${cx+a*s},${cy+b*s}l${-a*3.5},${-b*3.5}`).attr("fill","none").attr("stroke",col).attr("stroke-width",1.5));
}

panel({id:1,title:"AUD/USD, 240,",box:[5,38,925,474],plot:[6,39,877,432],candles:h4Candles,xr:[7.3,805.3],yd:[.8,.78],yr:[159.3,409.2],
  pticks:h4PriceTicks,tpos:h4TickPos,tlabels:h4TickLabels,darkGrid:true,bw:4.2,tenkan:h4Tenkan,kijun:h4Kijun,spanA:h4SpanA,spanB:h4SpanB,chikou:h4Chikou,
  cloud:[[5.2,75.2,"g"],[75.2,136,"p"],[136,161,"g"]],lastColor:"#f00",yellow:[103.9,150.8,.7963,.7870],
  blackLines:[[27.6,.8078,137.6,.7794],[32.8,.7954,103.4,.7783]],arrow:{shaft:[[150.7,.7974],[156.8,.8037]],head:[[154.3,.8028],[156.8,.8037],[157.4,.8022]]},
  purpleH:.8066,tags:h4Tags,tagW:44,caretX:150,ohlcX:200,ohlc:["n/a","n/a","n/a","n/a"],ohlcColor:"#58e058"});

panel({id:2,title:"AUD/USD, D,",box:[928,38,1847,474],plot:[929,39,1800,432],candles:dayCandles,xr:[930.7,1708.3],yd:[.78,.74],yr:[206.7,396],
  pticks:dayPriceTicks,tpos:dayTickPos,tlabels:dayTickLabels,bw:6.4,tenkan:dayTenkan,kijun:dayKijun,spanA:daySpanA,spanB:daySpanB,chikou:dayChikou,
  cloud:[[-.2,41.8,"p"],[41.8,77,"b"]],lastColor:"#00c800",yellow:[61.9,69.9,.7966,.7873],yellowBelow:true,
  blackLines:[[48.9,.8078,67.75,.7795],[49.8,.7956,62.9,.7770]],arrow:{shaft:[[68.9,.7976],[69.9,.8037]],head:[[68.8,.8015],[69.9,.8037],[70.2,.8003]]},
  purpleH:.8066,purpleEnd:73.9,purpleBottom:.7328,tags:dayTags,tagW:45,caretX:125,ohlcX:176,ohlc:["n/a","n/a","n/a","n/a"],ohlcColor:"#58e058",autoColor:"#8ccbea"});

panel({id:3,title:"AUD/USD, W,",box:[5,479,925,915],plot:[6,480,877,873],candles:weekCandles,xr:[5.9,808.5],yd:[.79,.71],yr:[576.7,849],
  pticks:weekPriceTicks,tpos:weekTickPos,tlabels:weekTickLabels,bw:9.6,tenkan:weekTenkan,kijun:weekKijun,spanA:weekSpanA,spanB:weekSpanB,chikou:weekChikou,chikouColor:"#4a4a4a",
  cloud:[[0,23,"p"],[23,61.9,"g"],[61.9,66,"p"],[66,69.4,"g"]],lastColor:"#00c800",yellow:[62.9,65,.7967,.7872],yellowBelow:true,
  blackLines:[[60,.8079,62.9,.7768],[60.4,.8040,64,.7795]],blackW:3,
  purpleH:.8069,tags:weekTags,tagW:45,caretX:131,ohlcX:187,ohlc:["0.7596","0.7723","0.7336","0.7369"],ohlcColor:"#f47878",autoColor:"#8ccbea"});

panel({id:4,title:"AUD/USD, M,",box:[928,479,1846,915],plot:[929,480,1800,873],border:"#1b8ec2",candles:monthCandles,xr:[937.4,1703.8],yd:[.7,.65],yr:[784,849.7],
  pticks:monthPriceTicks,tpos:monthTickPos,tlabels:monthTickLabels,noLine:[44.7],darkGrid:true,bw:12.5,tenkan:monthTenkan,kijun:monthKijun,spanA:monthSpanA,spanB:monthSpanB,chikou:monthChikou,
  cloud:[[0,22,"g"],[22,45,"p"]],lastColor:"#f00",
  blackLines:[[39,.8059,39.9,.7771],[39.2,.7931,39.9,.7771]],blackW:2.6,arrow:{shaft:[[40,.8036],[40,.7920]],head:[[39.5,.7939],[40,.8036],[40.4,.7939]]},
  purpleRect:[8,41,.8070,.6958],tags:monthTags,tagW:45,caretX:130,ohlcX:199,ohlc:["0.7596","0.7723","0.7142","0.7233"],ohlcColor:"#f00000",
  badges:[[39,.8223],[38,.7872]],hand:[25.4,.7516],crosshair:25,barBg:"#e5e8ed",barText:"#858b94",clock:"08:31:35 (UTC)",
  extra:(g,P)=>{
    const t=g.append("text").attr("x",P.l+5).attr("y",P.t+45).attr("font-size",13.5);
    t.append("tspan").attr("fill","#8a8a8a").text("Ichimoku (9, 26, 52, 26)");
    [["0.7330","#ff9a1a",68],["0.8165","#0000f0",7],["0.7934","#a8a8a8",7],["0.9483","#d4bcc8",7],["0.9576",MAROON,7]].forEach(v=>t.append("tspan").attr("dx",v[2]).attr("fill",v[1]).text(v[0]));
    g.append("rect").attr("x",P.pr+1).attr("y",708).attr("width",45).attr("height",5).attr("fill","#ff9800");
  }});

// ---------- top toolbar ----------
const tb=svg.append("g");
function tbox(x0,x1,fill){tb.append("rect").attr("x",x0+.5).attr("y",3.5).attr("width",x1-x0).attr("height",29).attr("fill",fill||"#fff").attr("stroke","#d5d9df");}
function ttext(x,t,opts={}){tb.append("text").attr("x",x).attr("y",22).attr("text-anchor",opts.a||"middle").attr("font-size",opts.s||12.5).attr("font-weight",opts.w||"normal").attr("fill",opts.c||"#666").text(t);}
const cuts=[104,136,174,211,250,288,329,368,408,444];
tbox(5,104);ttext(13,"AUD/USD",{a:"start",s:13.5,c:"#555"});
intervalButtons.forEach((t,i)=>{tbox(cuts[i],cuts[i+1],t==="1M"?"#f0f4f7":"#fff");ttext((cuts[i]+cuts[i+1])/2,t,t==="1M"?{c:"#6cc0e8",w:"bold"}:{});});
tbox(444,465);ttext(454.5,"▾",{c:"#888",s:11});
tbox(470,513,"#f0f4f7");tbox(513,556);tbox(556,600);tbox(600,621);ttext(610.5,"▾",{c:"#888",s:11});
tb.append("path").attr("d","M488,14h5v14h-5zM490.5,14v-5M490.5,28v4M495,10h5v12h-5zM497.5,10v-3M497.5,22v5").attr("fill","none").attr("stroke","#5db7e6").attr("stroke-width",1.4);
tb.append("path").attr("d","M526,26l7,-6 5,3 7,-8v11z").attr("fill","#bbb");
tb.append("path").attr("d","M526,24l7,-6 5,3 7,-8").attr("fill","none").attr("stroke","#666").attr("stroke-width",1.5);
tb.append("path").attr("d","M572,10v20M568,26h4M572,17h4M582,8v20M578,22h4M582,13h4").attr("fill","none").attr("stroke","#666").attr("stroke-width",2);
tbox(625,664);tb.append("text").attr("x",644.5).attr("y",25).attr("text-anchor","middle").attr("font-size",22).style("font-family","DejaVu Sans").attr("fill","#777").text("⚙");
tbox(668,711);tb.append("path").attr("d","M680,28v-5M684,28v-9M688,28v-6M692,28v-10M696,28v-8M700,28v-12").attr("stroke","#777").attr("stroke-width",2);
tb.append("path").attr("d","M679,19l8,-7 4,3 9,-7").attr("fill","none").attr("stroke","#777");
tbox(716,758);tb.append("text").attr("x",737).attr("y",25).attr("text-anchor","middle").attr("font-size",19).style("font-family","DejaVu Sans").attr("fill","#777").text("⚖");
tbox(762,789);tbox(789,815);
tb.append("path").attr("d","M782,26q0,-8 -7,-8v4l-6,-6 6,-6v4q10,1 7,12z").attr("fill","#888");
tb.append("path").attr("d","M795,26q0,-8 7,-8v4l6,-6 -6,-6v4q-10,1 -7,12z").attr("fill","#c8cdd3");
tbox(1468,1513);
tb.append("path").attr("d","M1482,14h4l2,-3h6l2,3h4v13h-18z").attr("fill","#777");
tb.append("circle").attr("cx",1491).attr("cy",20).attr("r",4).attr("fill","#fff");
tb.append("circle").attr("cx",1491).attr("cy",20).attr("r",2.4).attr("fill","#777");
tbox(1517,1564);
[[1527,9],[1539,9],[1527,20],[1539,20]].forEach(p=>tb.append("rect").attr("x",p[0]+.5).attr("y",p[1]+.5).attr("width",10).attr("height",9).attr("fill","none").attr("stroke","#777"));
ttext(1556,"▾",{c:"#888",s:11});
tbox(1568,1619);tbox(1619,1667);tbox(1667,1786,"#e5e5e5");tbox(1786,1811);tbox(1816,1847);
const cloudD="q-8,0 -8,-6 q0,-5 6,-5 q2,-7 9,-6 q7,0 8,6 q6,1 5,6 q0,5 -6,5 z";
tb.append("path").attr("d","M1586,26"+cloudD).attr("fill","#fff").attr("stroke","#888");
tb.append("path").attr("d","M1591,16v8h-3l5,5 5,-5h-3v-8z").attr("fill","#fff").attr("stroke","#888");
tb.append("path").attr("d","M1634,26"+cloudD).attr("fill","#fff").attr("stroke","#888");
tb.append("path").attr("d","M1640,28v-8h-3l5,-6 5,6h-3v8z").attr("fill","#888");
ttext(1727,"Forex Ichi H4 D W M",{s:12,c:"#666"});
ttext(1798.5,"▾",{c:"#888",s:11});
corners(tb,1831.5,18,"#888");
tb.append("rect").attr("x",5.5).attr("y",33).attr("width",26).attr("height",6).attr("fill","#f3f5f8").attr("stroke","#d5d9df");
tb.append("path").attr("d","M16,38l3,-3 3,3z").attr("fill","#bbb");
</script></body></html>
